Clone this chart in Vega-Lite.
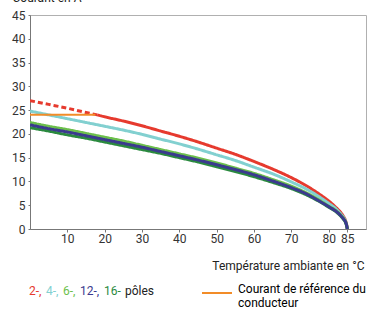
{
  "$schema": "https://vega.github.io/schema/vega-lite/v6.json",
  "width": 336,
  "height": 214,
  "autosize": {"type": "none"},
  "padding": {"left": 30, "top": 15, "right": 1, "bottom": 84},
  "background": "white",
  "config": {
    "font": "Roboto",
    "view": {"stroke": "#b0b0b0", "strokeWidth": 1},
    "axis": {"labelFont": "Roboto", "titleFont": "Roboto", "labelColor": "#333", "titleColor": "#222", "titleFontWeight": "normal"}
  },
  "datasets": {
    "vgrid": [{"T": 10}, {"T": 20}, {"T": 30}, {"T": 40}, {"T": 50}, {"T": 60}, {"T": 70}, {"T": 80}],
    "hgrid": [{"I": 5}, {"I": 10}, {"I": 15}, {"I": 20}, {"I": 25}, {"I": 30}, {"I": 35}, {"I": 40}],
    "poles": [
      {"s": "2", "p": "dash", "T": 0, "I": 27.0}, {"s": "2", "p": "dash", "T": 5, "I": 26.2}, {"s": "2", "p": "dash", "T": 10, "I": 25.4}, {"s": "2", "p": "dash", "T": 15, "I": 24.5}, {"s": "2", "p": "dash", "T": 18, "I": 24.0},
      {"s": "2", "p": "solid", "T": 18, "I": 24.0}, {"s": "2", "p": "solid", "T": 20, "I": 23.6}, {"s": "2", "p": "solid", "T": 25, "I": 22.7}, {"s": "2", "p": "solid", "T": 30, "I": 21.7}, {"s": "2", "p": "solid", "T": 35, "I": 20.6}, {"s": "2", "p": "solid", "T": 40, "I": 19.5}, {"s": "2", "p": "solid", "T": 45, "I": 18.3}, {"s": "2", "p": "solid", "T": 50, "I": 17.0}, {"s": "2", "p": "solid", "T": 55, "I": 15.7}, {"s": "2", "p": "solid", "T": 60, "I": 14.2}, {"s": "2", "p": "solid", "T": 65, "I": 12.6}, {"s": "2", "p": "solid", "T": 70, "I": 10.8}, {"s": "2", "p": "solid", "T": 74, "I": 9.1}, {"s": "2", "p": "solid", "T": 77, "I": 7.6}, {"s": "2", "p": "solid", "T": 80, "I": 5.9}, {"s": "2", "p": "solid", "T": 82, "I": 4.5}, {"s": "2", "p": "solid", "T": 83, "I": 3.7}, {"s": "2", "p": "solid", "T": 84, "I": 2.6}, {"s": "2", "p": "solid", "T": 84.5, "I": 1.8}, {"s": "2", "p": "solid", "T": 84.8, "I": 1.0}, {"s": "2", "p": "solid", "T": 85, "I": 0},
      {"s": "4", "p": "solid", "T": 0, "I": 24.8}, {"s": "4", "p": "solid", "T": 5, "I": 24.0}, {"s": "4", "p": "solid", "T": 10, "I": 23.2}, {"s": "4", "p": "solid", "T": 15, "I": 22.4}, {"s": "4", "p": "solid", "T": 20, "I": 21.6}, {"s": "4", "p": "solid", "T": 25, "I": 20.8}, {"s": "4", "p": "solid", "T": 30, "I": 19.9}, {"s": "4", "p": "solid", "T": 35, "I": 18.9}, {"s": "4", "p": "solid", "T": 40, "I": 17.9}, {"s": "4", "p": "solid", "T": 45, "I": 16.8}, {"s": "4", "p": "solid", "T": 50, "I": 15.6}, {"s": "4", "p": "solid", "T": 55, "I": 14.4}, {"s": "4", "p": "solid", "T": 60, "I": 13.0}, {"s": "4", "p": "solid", "T": 65, "I": 11.6}, {"s": "4", "p": "solid", "T": 70, "I": 9.9}, {"s": "4", "p": "solid", "T": 74, "I": 8.4}, {"s": "4", "p": "solid", "T": 77, "I": 7.0}, {"s": "4", "p": "solid", "T": 80, "I": 5.4}, {"s": "4", "p": "solid", "T": 82, "I": 4.2}, {"s": "4", "p": "solid", "T": 83, "I": 3.4}, {"s": "4", "p": "solid", "T": 84, "I": 2.4}, {"s": "4", "p": "solid", "T": 84.5, "I": 1.7}, {"s": "4", "p": "solid", "T": 84.8, "I": 0.9}, {"s": "4", "p": "solid", "T": 85, "I": 0},
      {"s": "6", "p": "solid", "T": 0, "I": 22.4}, {"s": "6", "p": "solid", "T": 5, "I": 21.6}, {"s": "6", "p": "solid", "T": 10, "I": 20.9}, {"s": "6", "p": "solid", "T": 15, "I": 20.1}, {"s": "6", "p": "solid", "T": 20, "I": 19.3}, {"s": "6", "p": "solid", "T": 25, "I": 18.5}, {"s": "6", "p": "solid", "T": 30, "I": 17.6}, {"s": "6", "p": "solid", "T": 35, "I": 16.7}, {"s": "6", "p": "solid", "T": 40, "I": 15.8}, {"s": "6", "p": "solid", "T": 45, "I": 14.9}, {"s": "6", "p": "solid", "T": 50, "I": 13.9}, {"s": "6", "p": "solid", "T": 55, "I": 12.8}, {"s": "6", "p": "solid", "T": 60, "I": 11.7}, {"s": "6", "p": "solid", "T": 65, "I": 10.4}, {"s": "6", "p": "solid", "T": 70, "I": 9.0}, {"s": "6", "p": "solid", "T": 74, "I": 7.6}, {"s": "6", "p": "solid", "T": 77, "I": 6.3}, {"s": "6", "p": "solid", "T": 80, "I": 4.8}, {"s": "6", "p": "solid", "T": 82, "I": 3.8}, {"s": "6", "p": "solid", "T": 83, "I": 3.1}, {"s": "6", "p": "solid", "T": 84, "I": 2.2}, {"s": "6", "p": "solid", "T": 84.5, "I": 1.5}, {"s": "6", "p": "solid", "T": 84.8, "I": 0.8}, {"s": "6", "p": "solid", "T": 85, "I": 0},
      {"s": "16", "p": "solid", "T": 0, "I": 21.3}, {"s": "16", "p": "solid", "T": 5, "I": 20.6}, {"s": "16", "p": "solid", "T": 10, "I": 19.8}, {"s": "16", "p": "solid", "T": 15, "I": 19.1}, {"s": "16", "p": "solid", "T": 20, "I": 18.3}, {"s": "16", "p": "solid", "T": 25, "I": 17.5}, {"s": "16", "p": "solid", "T": 30, "I": 16.7}, {"s": "16", "p": "solid", "T": 35, "I": 15.9}, {"s": "16", "p": "solid", "T": 40, "I": 15.0}, {"s": "16", "p": "solid", "T": 45, "I": 14.1}, {"s": "16", "p": "solid", "T": 50, "I": 13.1}, {"s": "16", "p": "solid", "T": 55, "I": 12.1}, {"s": "16", "p": "solid", "T": 60, "I": 11.0}, {"s": "16", "p": "solid", "T": 65, "I": 9.8}, {"s": "16", "p": "solid", "T": 70, "I": 8.5}, {"s": "16", "p": "solid", "T": 74, "I": 7.2}, {"s": "16", "p": "solid", "T": 77, "I": 6.0}, {"s": "16", "p": "solid", "T": 80, "I": 4.6}, {"s": "16", "p": "solid", "T": 82, "I": 3.6}, {"s": "16", "p": "solid", "T": 83, "I": 2.9}, {"s": "16", "p": "solid", "T": 84, "I": 2.0}, {"s": "16", "p": "solid", "T": 84.5, "I": 1.4}, {"s": "16", "p": "solid", "T": 84.8, "I": 0.7}, {"s": "16", "p": "solid", "T": 85, "I": 0},
      {"s": "12", "p": "solid", "T": 0, "I": 21.9}, {"s": "12", "p": "solid", "T": 5, "I": 21.1}, {"s": "12", "p": "solid", "T": 10, "I": 20.4}, {"s": "12", "p": "solid", "T": 15, "I": 19.6}, {"s": "12", "p": "solid", "T": 20, "I": 18.8}, {"s": "12", "p": "solid", "T": 25, "I": 18.0}, {"s": "12", "p": "solid", "T": 30, "I": 17.2}, {"s": "12", "p": "solid", "T": 35, "I": 16.3}, {"s": "12", "p": "solid", "T": 40, "I": 15.4}, {"s": "12", "p": "solid", "T": 45, "I": 14.5}, {"s": "12", "p": "solid", "T": 50, "I": 13.5}, {"s": "12", "p": "solid", "T": 55, "I": 12.5}, {"s": "12", "p": "solid", "T": 60, "I": 11.4}, {"s": "12", "p": "solid", "T": 65, "I": 10.1}, {"s": "12", "p": "solid", "T": 70, "I": 8.7}, {"s": "12", "p": "solid", "T": 74, "I": 7.4}, {"s": "12", "p": "solid", "T": 77, "I": 6.1}, {"s": "12", "p": "solid", "T": 80, "I": 4.7}, {"s": "12", "p": "solid", "T": 82, "I": 3.7}, {"s": "12", "p": "solid", "T": 83, "I": 3.0}, {"s": "12", "p": "solid", "T": 84, "I": 2.1}, {"s": "12", "p": "solid", "T": 84.5, "I": 1.5}, {"s": "12", "p": "solid", "T": 84.8, "I": 0.8}, {"s": "12", "p": "solid", "T": 85, "I": 0}
    ],
    "ref": [
      {"r": "ref", "T": 0, "I": 24.0},
      {"r": "ref", "T": 17.5, "I": 24.0}
    ]
  },
  "encoding": {
    "x": {"field": "T", "type": "quantitative", "scale": {"domain": [0, 90], "nice": false},
      "axis": {"values": [10, 20, 30, 40, 50, 60, 70, 80, 85], "grid": false, "domainColor": "#777", "tickColor": "#777", "tickSize": 3, "labelPadding": 1, "labelFontSize": 12, "title": "Température ambiante en °C", "titleFontSize": 12, "titleAnchor": "end", "titleAlign": "right", "titleX": 334, "titleY": 40, "titleBaseline": "alphabetic"}},
    "y": {"field": "I", "type": "quantitative", "scale": {"domain": [0, 45], "nice": false},
      "axis": {"values": [0, 5, 10, 15, 20, 25, 30, 35, 40, 45], "grid": false, "domainColor": "#777", "tickColor": "#777", "tickSize": 2, "labelPadding": 3, "labelFontSize": 12, "title": "Courant en A", "titleFontSize": 12, "titleAngle": 0, "titleAlign": "left", "titleBaseline": "alphabetic", "titleX": -18, "titleY": -14}}
  },
  "layer": [
    {
      "data": {"name": "poles"},
      "mark": {"type": "line", "interpolate": "monotone", "strokeWidth": 3, "clip": true},
      "encoding": {
        "color": {"field": "s", "type": "nominal", "sort": null,
          "scale": {"domain": ["2", "4", "6", "12", "16", "p"], "range": ["#e63a2e", "#82d0d0", "#6cbf4c", "#3b3a8e", "#2b8a3f", "#222222"]},
          "legend": {"orient": "none", "legendX": -13, "legendY": 270, "direction": "horizontal", "gridAlign": "none", "title": null, "symbolSize": 1, "symbolOpacity": 0, "symbolStrokeWidth": 0, "labelOffset": 0, "columnPadding": -8, "labelFont": "Roboto", "labelFontSize": 12,
            "labelExpr": "datum.value == '16' ? '16-' : datum.value == 'p' ? 'pôles' : datum.value + '-,'",
            "labelColor": {"expr": "datum.value == '2' ? '#e63a2e' : datum.value == '4' ? '#82d0d0' : datum.value == '6' ? '#6cbf4c' : datum.value == '12' ? '#3b3a8e' : datum.value == '16' ? '#2b8a3f' : '#222222'"}}},
        "strokeDash": {"field": "p", "type": "nominal", "scale": {"domain": ["solid", "dash"], "range": [[1, 0], [5, 3]]}, "legend": null},
        "strokeWidth": {"field": "p", "type": "nominal", "scale": {"domain": ["solid", "dash"], "range": [3, 2]}, "legend": null}
      }
    },
    {
      "data": {"name": "ref"},
      "mark": {"type": "line", "strokeWidth": 2},
      "encoding": {
        "stroke": {"field": "r", "type": "nominal", "scale": {"range": ["#f28c28"]},
          "legend": {"orient": "none", "legendX": 171, "legendY": 262, "title": null, "symbolType": "stroke", "symbolSize": 900, "symbolStrokeWidth": 2, "labelOffset": 5, "labelFont": "Roboto", "labelFontSize": 12, "labelLimit": 300, "labelBaseline": "alphabetic",
            "labelExpr": "['Courant de référence du', 'conducteur']"}}
      }
    },
    {
      "data": {"name": "vgrid"},
      "mark": {"type": "rule", "color": "#9a9a9a", "strokeWidth": 1, "opacity": 0.6},
      "encoding": {"y": {"datum": 0, "type": "quantitative"}, "y2": {"datum": 45}}
    },
    {
      "data": {"name": "hgrid"},
      "mark": {"type": "rule", "color": "#9a9a9a", "strokeWidth": 1, "opacity": 0.6},
      "encoding": {"x": {"datum": 0, "type": "quantitative"}, "x2": {"datum": 90}}
    }
  ]
}
